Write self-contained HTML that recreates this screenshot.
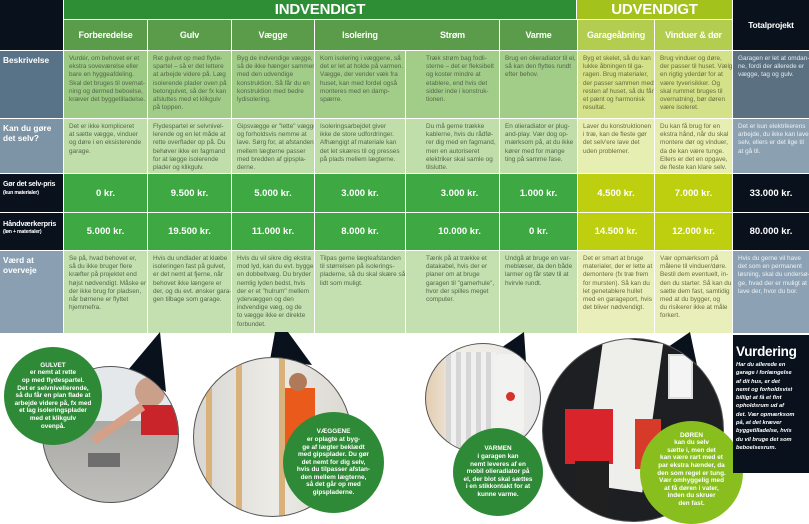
<!DOCTYPE html>
<html><head><meta charset="utf-8"><style>
*{margin:0;padding:0;box-sizing:border-box}
body{width:809px;height:522px;overflow:hidden;background:#fff;font-family:"Liberation Sans",sans-serif;position:relative}
.a{position:absolute}
.t{font-size:6.4px;line-height:8.2px;color:#55654a;padding:4px 1px 0 5px;white-space:nowrap;overflow:hidden}
.h{color:#fff;font-weight:bold;font-size:9px;display:flex;align-items:center;justify-content:center;letter-spacing:-0.2px}
.p{color:#fff;font-weight:bold;font-size:9.5px;display:flex;align-items:center;justify-content:center}
.l{color:#fff;font-weight:bold;font-size:8.3px;line-height:9.5px;padding:5px 0 0 3px;white-space:nowrap;overflow:hidden}
.l small{font-size:5.2px;display:block;line-height:6px}
.c{border-radius:50%;overflow:hidden}
.g{color:#fff;font-weight:bold;font-size:6.4px;line-height:7.6px;text-align:center;display:flex;flex-direction:column;justify-content:center;align-items:center;white-space:nowrap}
</style></head><body>
<div class="a" style="left:0;top:0;width:63px;height:50px;background:#08111c"></div>
<div class="a h" style="left:64px;top:0;width:512px;height:19px;background:#2e8e36;font-size:15px">INDVENDIGT</div>
<div class="a h" style="left:577px;top:0;width:155px;height:19px;background:#a3c21b;font-size:15px">UDVENDIGT</div>
<div class="a h" style="left:733px;top:0;width:76px;height:50px;background:#08111c;font-size:8.5px">Totalprojekt</div>
<div class="a h" style="left:64px;top:20px;width:83px;height:30px;background:#5b9c4b">Forberedelse</div>
<div class="a h" style="left:148px;top:20px;width:83px;height:30px;background:#5b9c4b">Gulv</div>
<div class="a h" style="left:232px;top:20px;width:82px;height:30px;background:#5b9c4b">Vægge</div>
<div class="a h" style="left:315px;top:20px;width:184px;height:30px;background:#5b9c4b"></div>
<div class="a h" style="left:315px;top:20px;width:90px;height:30px">Isolering</div>
<div class="a h" style="left:406px;top:20px;width:93px;height:30px">Strøm</div>
<div class="a h" style="left:500px;top:20px;width:77px;height:30px;background:#5b9c4b">Varme</div>
<div class="a h" style="left:578px;top:20px;width:76px;height:30px;background:#b2cd4f">Garageåbning</div>
<div class="a h" style="left:655px;top:20px;width:77px;height:30px;background:#b2cd4f">Vinduer &amp; dør</div>

<div class="a l" style="left:0;top:51px;width:63px;height:67px;background:#587387">Beskrivelse</div>
<div class="a l" style="left:0;top:119px;width:63px;height:54px;background:#7c94a6">Kan du gøre<br>det selv?</div>
<div class="a l" style="left:0;top:174px;width:63px;height:38px;background:#08111c;padding-top:6px;font-size:7px;letter-spacing:-0.2px">Gør det selv-pris<small>(kun materialer)</small></div>
<div class="a l" style="left:0;top:213px;width:63px;height:37px;background:#08111c;padding-top:6px;font-size:7.3px;letter-spacing:-0.2px">Håndværkerpris<small>(løn + materialer)</small></div>
<div class="a l" style="left:0;top:251px;width:63px;height:82px;background:#8aa0b2">Værd at<br>overveje</div>

<div class="a t" style="left:64px;top:51px;width:83px;height:67px;background:#9dca84">Vurdér, om behovet er et<br>ekstra soveværelse eller<br>bare en hyggeafdeling.<br>Skal det bruges til overnat-<br>ning og dermed beboelse,<br>kræver det byggetilladelse.</div>
<div class="a t" style="left:148px;top:51px;width:83px;height:67px;background:#a2cd88">Ret gulvet op med flyde-<br>spartel – så er det lettere<br>at arbejde videre på. Læg<br>isolerende plader oven på<br>betongulvet, så der fx kan<br>afsluttes med et klikgulv<br>på toppen.</div>
<div class="a t" style="left:232px;top:51px;width:82px;height:67px;background:#a2cd88">Byg de indvendige vægge,<br>så de ikke hænger sammen<br>med den udvendige<br>konstruktion. Så får du en<br>konstruktion med bedre<br>lydisolering.</div>
<div class="a t" style="left:315px;top:51px;width:90px;height:67px;background:#a2cd88">Kom isolering i væggene, så<br>det er let at holde på varmen.<br>Vægge, der vender væk fra<br>huset, kan med fordel også<br>monteres med en damp-<br>spærre.</div>
<div class="a t" style="left:406px;top:51px;width:93px;height:67px;background:#a2cd88;padding-left:20px">Træk strøm bag fodli-<br>sterne – det er fleksibelt<br>og koster mindre at<br>etablere, end hvis det<br>sidder inde i konstruk-<br>tionen.</div>
<div class="a t" style="left:500px;top:51px;width:77px;height:67px;background:#a2cd88">Brug en olieradiator til el,<br>så kan den flyttes rundt<br>efter behov.</div>
<div class="a t" style="left:578px;top:51px;width:76px;height:67px;background:#d3e188;color:#6a6a40">Byg et skelet, så du kan<br>lukke åbningen til ga-<br>ragen. Brug materialer,<br>der passer sammen med<br>resten af huset, så du får<br>et pænt og harmonisk<br>resultat.</div>
<div class="a t" style="left:655px;top:51px;width:77px;height:67px;background:#d3e188;color:#6a6a40">Brug vinduer og døre,<br>der passer til huset. Vælg<br>en rigtig yderdør for at<br>være tyverisikker. Og<br>skal rummet bruges til<br>overnatning, bør døren<br>være isoleret.</div>
<div class="a t" style="left:733px;top:51px;width:76px;height:67px;background:#5b7080;color:#e4ecf0">Garagen er let at omdan-<br>ne, fordi der allerede er<br>vægge, tag og gulv.</div>

<div class="a t" style="left:64px;top:119px;width:83px;height:54px;background:#c0deaa">Det er ikke kompliceret<br>at sætte vægge, vinduer<br>og døre i en eksisterende<br>garage.</div>
<div class="a t" style="left:148px;top:119px;width:83px;height:54px;background:#c0deaa">Flydespartel er selvnivel-<br>lerende og en let måde at<br>rette overflader op på. Du<br>behøver ikke en fagmand<br>for at lægge isolerende<br>plader og klikgulv.</div>
<div class="a t" style="left:232px;top:119px;width:82px;height:54px;background:#c0deaa">Gipsvægge er "lette" vægge<br>og forholdsvis nemme at<br>lave. Sørg for, at afstanden<br>mellem lægterne passer<br>med bredden af gipspla-<br>derne.</div>
<div class="a t" style="left:315px;top:119px;width:90px;height:54px;background:#c0deaa">Isoleringsarbejdet giver<br>ikke de store udfordringer.<br>Afhængigt af materiale kan<br>det let skæres til og presses<br>på plads mellem lægterne.</div>
<div class="a t" style="left:406px;top:119px;width:93px;height:54px;background:#c0deaa;padding-left:20px">Du må gerne trække<br>kablerne, hvis du rådfø-<br>rer dig med en fagmand,<br>men en autoriseret<br>elektriker skal samle og<br>tilslutte.</div>
<div class="a t" style="left:500px;top:119px;width:77px;height:54px;background:#c0deaa">En olieradiator er plug-<br>and-play. Vær dog op-<br>mærksom på, at du ikke<br>kører med for mange<br>ting på samme fase.</div>
<div class="a t" style="left:578px;top:119px;width:76px;height:54px;background:#e6eeb2;color:#6a6a40">Laver du konstruktionen<br>i træ, kan de fleste gør<br>det selv'ere lave det<br>uden problemer.</div>
<div class="a t" style="left:655px;top:119px;width:77px;height:54px;background:#e6eeb2;color:#6a6a40">Du kan få brug for en<br>ekstra hånd, når du skal<br>montere dør og vinduer,<br>da de kan være tunge.<br>Ellers er det en opgave,<br>de fleste kan klare selv.</div>
<div class="a t" style="left:733px;top:119px;width:76px;height:54px;background:#8ba0b1;color:#eef2f5">Det er kun elektrikerens<br>arbejde, du ikke kan lave<br>selv, ellers er det lige til<br>at gå til.</div>

<div class="a p" style="left:64px;top:174px;width:83px;height:38px;background:#3ea843">0 kr.</div>
<div class="a p" style="left:148px;top:174px;width:83px;height:38px;background:#3ea843">9.500 kr.</div>
<div class="a p" style="left:232px;top:174px;width:82px;height:38px;background:#3ea843">5.000 kr.</div>
<div class="a p" style="left:315px;top:174px;width:90px;height:38px;background:#3ea843">3.000 kr.</div>
<div class="a p" style="left:406px;top:174px;width:93px;height:38px;background:#3ea843;padding-left:14px">3.000 kr.</div>
<div class="a p" style="left:500px;top:174px;width:77px;height:38px;background:#3ea843">1.000 kr.</div>
<div class="a p" style="left:578px;top:174px;width:76px;height:38px;background:#bdcf0e">4.500 kr.</div>
<div class="a p" style="left:655px;top:174px;width:77px;height:38px;background:#bdcf0e">7.000 kr.</div>
<div class="a p" style="left:733px;top:174px;width:76px;height:38px;background:#08111c">33.000 kr.</div>

<div class="a p" style="left:64px;top:213px;width:83px;height:37px;background:#3ea843">5.000 kr.</div>
<div class="a p" style="left:148px;top:213px;width:83px;height:37px;background:#3ea843">19.500 kr.</div>
<div class="a p" style="left:232px;top:213px;width:82px;height:37px;background:#3ea843">11.000 kr.</div>
<div class="a p" style="left:315px;top:213px;width:90px;height:37px;background:#3ea843">8.000 kr.</div>
<div class="a p" style="left:406px;top:213px;width:93px;height:37px;background:#3ea843;padding-left:14px">10.000 kr.</div>
<div class="a p" style="left:500px;top:213px;width:77px;height:37px;background:#3ea843">0 kr.</div>
<div class="a p" style="left:578px;top:213px;width:76px;height:37px;background:#bdcf0e">14.500 kr.</div>
<div class="a p" style="left:655px;top:213px;width:77px;height:37px;background:#bdcf0e">12.000 kr.</div>
<div class="a p" style="left:733px;top:213px;width:76px;height:37px;background:#08111c">80.000 kr.</div>

<div class="a t" style="left:64px;top:251px;width:83px;height:82px;background:#c4e0b0">Se på, hvad behovet er,<br>så du ikke bruger flere<br>kræfter på projektet end<br>højst nødvendigt. Måske er<br>der ikke brug for pladsen,<br>når børnene er flyttet<br>hjemmefra.</div>
<div class="a t" style="left:148px;top:251px;width:83px;height:82px;background:#c4e0b0">Hvis du undlader at klæbe<br>isoleringen fast på gulvet,<br>er det nemt at fjerne, når<br>behovet ikke længere er<br>der, og du evt. ønsker gara-<br>gen tilbage som garage.</div>
<div class="a t" style="left:232px;top:251px;width:82px;height:82px;background:#c4e0b0">Hvis du vil sikre dig ekstra<br>mod lyd, kan du evt. bygge<br>en dobbeltvæg. Du bryder<br>nemlig lyden bedst, hvis<br>der er et "hulrum" mellem<br>ydervæggen og den<br>indvendige væg, og de<br>to vægge ikke er direkte<br>forbundet.</div>
<div class="a t" style="left:315px;top:251px;width:90px;height:82px;background:#c4e0b0">Tilpas gerne lægteafstanden<br>til størrelsen på isolerings-<br>pladerne, så du skal skære så<br>lidt som muligt.</div>
<div class="a t" style="left:406px;top:251px;width:93px;height:82px;background:#c4e0b0;padding-left:20px">Tænk på at trække et<br>datakabel, hvis der er<br>planer om at bruge<br>garagen til "gamerhule",<br>hvor der spilles meget<br>computer.</div>
<div class="a t" style="left:500px;top:251px;width:77px;height:82px;background:#c4e0b0">Undgå at bruge en var-<br>meblæser, da den både<br>larmer og får støv til at<br>hvirvle rundt.</div>
<div class="a t" style="left:578px;top:251px;width:76px;height:82px;background:#e8efba;color:#6a6a40">Det er smart at bruge<br>materialer, der er lette at<br>demontere (fx træ frem<br>for mursten). Så kan du<br>let genetablere hullet<br>med en garageport, hvis<br>det bliver nødvendigt.</div>
<div class="a t" style="left:655px;top:251px;width:77px;height:82px;background:#e8efba;color:#6a6a40">Vær opmærksom på<br>målene til vinduer/døre.<br>Bestil dem eventuelt, in-<br>den du starter. Så kan du<br>sætte dem fast, samtidig<br>med at du bygger, og<br>du risikerer ikke at måle<br>forkert.</div>
<div class="a t" style="left:733px;top:251px;width:76px;height:82px;background:#8ca1b3;color:#eef2f5">Hvis du gerne vil have<br>det som en permanent<br>løsning, skal du undersø-<br>ge, hvad der er muligt at<br>lave der, hvor du bor.</div>

<svg class="a" style="left:0;top:0" width="809" height="522">
<polygon points="128,370 160,332 166,392" fill="#08111c"/>
<polygon points="275,332 288,332 312,365 270,360" fill="#08111c"/>
<polygon points="498,350 524,332 526,362" fill="#08111c"/>
<polygon points="668,347 690,332 698,370" fill="#08111c"/>
</svg>

<div class="a c" style="left:42px;top:366px;width:137px;height:137px;background:linear-gradient(#e4e8ea 0 40%,#a9a9a6 40%,#c0bfbb 100%);border:1px solid #555">
<div class="a" style="left:92px;top:10px;width:30px;height:30px;border-radius:50%;background:#caa08a"></div>
<div class="a" style="left:98px;top:38px;width:40px;height:30px;background:#c8242a"></div>
<div class="a" style="left:45px;top:52px;width:60px;height:9px;background:#d4a088;transform:rotate(-35deg)"></div>
<div class="a" style="left:45px;top:86px;width:32px;height:14px;background:#6e6e6e"></div>
</div>
<div class="a c" style="left:193px;top:357px;width:159px;height:160px;background:linear-gradient(90deg,#d8d6d2,#ecebe6 50%,#dcd8d2);border:1px solid #555">
<div class="a" style="left:42px;top:0;width:6px;height:160px;background:#d8b27a"></div>
<div class="a" style="left:85px;top:0;width:6px;height:160px;background:#d8b27a"></div>
<div class="a" style="left:12px;top:30px;width:6px;height:130px;background:#d8b27a"></div>
<div class="a" style="left:91px;top:30px;width:30px;height:60px;background:#ea5a1a"></div>
<div class="a" style="left:95px;top:15px;width:18px;height:18px;border-radius:50%;background:#b07a5a"></div>
</div>
<div class="a c" style="left:425px;top:343px;width:116px;height:111px;background:linear-gradient(90deg,#e2cdb0,#f2ede6 30%,#e8e8e8);border:1px solid #555">
<div class="a" style="left:20px;top:8px;width:50px;height:100px;background:repeating-linear-gradient(90deg,#d6d6d6 0 5px,#f0f0f0 5px 10px)"></div>
<div class="a" style="left:68px;top:10px;width:30px;height:80px;background:#f2f2f0;border-radius:6px"></div>
<div class="a" style="left:80px;top:48px;width:9px;height:9px;border-radius:50%;background:#d4322a"></div>
</div>
<div class="a c" style="left:542px;top:338px;width:182px;height:184px;background:#1e1f22;border:1px solid #555">
<div class="a" style="left:50px;top:0;width:60px;height:150px;background:#eeeeea;transform:rotate(8deg)"></div>
<div class="a" style="left:125px;top:15px;width:25px;height:45px;background:#f4f4f4;border:2px solid #ddd"></div>
<div class="a" style="left:22px;top:70px;width:48px;height:55px;background:#d8242a"></div>
<div class="a" style="left:32px;top:122px;width:34px;height:62px;background:#202020"></div>
<div class="a" style="left:92px;top:80px;width:26px;height:50px;background:#d83a2a"></div>
</div>

<div class="a c g" style="left:4px;top:347px;width:98px;height:98px;background:#2f8a38">GULVET<br>er nemt at rette<br>op med flydespartel.<br>Det er selvnivellerende,<br>så du får en plan flade at<br>arbejde videre på, fx med<br>et lag isoleringsplader<br>med et klikgulv<br>ovenpå.</div>
<div class="a c g" style="left:283px;top:412px;width:101px;height:101px;background:#2f8a38">VÆGGENE<br>er oplagte at byg-<br>ge af lægter beklædt<br>med gipsplader. Du gør<br>det nemt for dig selv,<br>hvis du tilpasser afstan-<br>den mellem lægterne,<br>så det går op med<br>gipspladerne.</div>
<div class="a c g" style="left:453px;top:428px;width:90px;height:88px;background:#2f8a38">VARMEN<br>i garagen kan<br>nemt leveres af en<br>mobil olieradiator på<br>el, der blot skal sættes<br>i en stikkontakt for at<br>kunne varme.</div>
<div class="a c g" style="left:640px;top:421px;width:103px;height:103px;background:#88bf1e;padding-bottom:6px">DØREN<br>kan du selv<br>sætte i, men det<br>kan være rart med et<br>par ekstra hænder, da<br>den som regel er tung.<br>Vær omhyggelig med<br>at få døren i vater,<br>inden du skruer<br>den fast.</div>

<div class="a" style="left:733px;top:335px;width:76px;height:138px;background:#08111c;color:#fff;padding:10px 3px 0 3px">
<div style="font-weight:bold;font-size:13.5px;letter-spacing:-0.3px;line-height:14px">Vurdering</div>
<div style="font-style:italic;font-weight:bold;font-size:5.7px;line-height:8.3px;margin-top:2px;white-space:nowrap">Har du allerede en<br>garage i forlængelse<br>af dit hus, er det<br>nemt og forholdsvist<br>billigt at få et fint<br>opholdsrum ud af<br>det. Vær opmærksom<br>på, at det kræver<br>byggetilladelse, hvis<br>du vil bruge det som<br>beboelsesrum.</div>
</div>
</body></html>
